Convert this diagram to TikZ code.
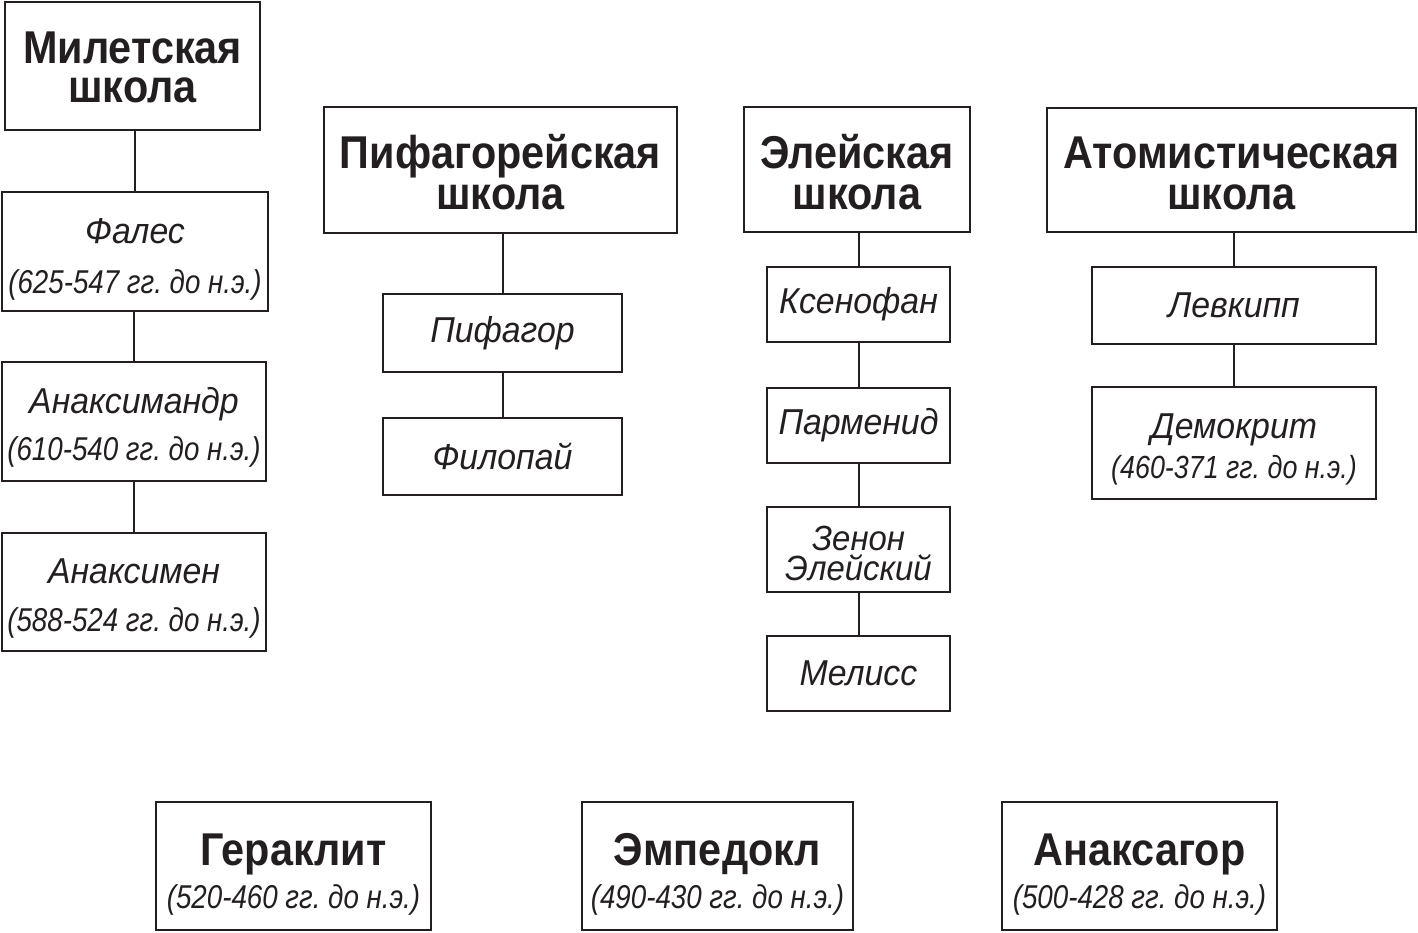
\documentclass[tikz,border=0pt]{standalone}
\usepackage{fontspec}
\setmainfont{Liberation Sans}[FakeStretch=0.84]
\newfontfamily\hdf{Liberation Sans}[FakeStretch=0.9]
\newfontfamily\nmf{Liberation Sans}[FakeStretch=0.94]
\definecolor{ink}{HTML}{231F20}
\newcommand\topst[1]{\rule{0pt}{#1pt}}
\newcommand\botst[1]{\rule[-#1pt]{0pt}{#1pt}}
\begin{document}
\begin{tikzpicture}[x=1pt,y=-1pt,
  box/.style={draw=ink,line width=2.8pt,rectangle,inner sep=0pt,align=center,text=ink,execute at begin node=\frenchspacing},
  hd/.style={box,font=\hdf\bfseries\fontsize{46}{41}\selectfont},
  nm/.style={box,font=\nmf\itshape\fontsize{36}{40}\selectfont},
  dt/.style={box,font=\itshape\fontsize{33}{#1}\selectfont},
  link/.style={draw=ink,line width=2pt}]
\useasboundingbox (0,0) rectangle (1418,932);
% Milesian
\node[hd,minimum width=255pt,minimum height=128pt,font=\hdf\bfseries\fontsize{46}{39}\selectfont] (mil) at (132.5,66) {\topst{45}Милетская\\школа\botst{12}};
\node[dt=50,minimum width=266pt,minimum height=119pt] (fal) at (135,251.5) {\topst{43}{\nmf\fontsize{36}{50}\selectfont Фалес}\\(625-547 гг. до н.э.)\botst{10}};
\node[dt=47,minimum width=264pt,minimum height=119pt] (anxd) at (134,421.5) {\topst{40}{\nmf\fontsize{36}{47}\selectfont Анаксимандр}\\(610-540 гг. до н.э.)\botst{10}};
\node[dt=48,minimum width=264pt,minimum height=118pt] (anxm) at (134,592) {\topst{40}{\nmf\fontsize{36}{48}\selectfont Анаксимен}\\(588-524 гг. до н.э.)\botst{10}};
% Pythagorean
\node[hd,minimum width=353pt,minimum height=126pt] (pyth) at (500.5,170) {\topst{49}Пифагорейская\\школа\botst{12}};
\node[nm,minimum width=239pt,minimum height=78pt] (pif) at (502.5,333) {Пифагор};
\node[nm,minimum width=239pt,minimum height=77pt] (fil) at (502.5,456.5) {Филопай};
% Eleatic
\node[hd,minimum width=226pt,minimum height=125pt] (elea) at (857,169.5) {\topst{50}Элейская\\школа\botst{12}};
\node[nm,minimum width=183pt,minimum height=75pt] (ksen) at (858.5,304.5) {Ксенофан};
\node[nm,minimum width=183pt,minimum height=75pt] (parm) at (858.5,425.5) {Парменид};
\node[nm,minimum width=183pt,minimum height=85pt,font=\nmf\itshape\fontsize{35}{30}\selectfont] (zen) at (858.5,549.5) {\topst{41}Зенон\\Элейский\botst{10}};
\node[nm,minimum width=183pt,minimum height=75pt] (mel) at (858.5,673.5) {Мелисс};
% Atomist
\node[hd,minimum width=369pt,minimum height=124pt] (atom) at (1231.5,170) {\topst{49}Атомистическая\\школа\botst{12}};
\node[nm,minimum width=284pt,minimum height=77pt] (levk) at (1234,305.5) {Левкипп};
\node[dt=40,minimum width=284pt,minimum height=112pt,font=\itshape\fontsize{32}{40}\selectfont] (dem) at (1234,443) {\topst{40}{\nmf\fontsize{36}{40}\selectfont Демокрит}\\(460-371 гг. до н.э.)\botst{10}};
% Bottom
\node[dt=43,minimum width=275pt,minimum height=128pt] (ger) at (293.5,866) {\topst{51}{\hdf\bfseries\upshape\fontsize{46}{43}\selectfont Гераклит}\\(520-460 гг. до н.э.)\botst{10}};
\node[dt=43,minimum width=271pt,minimum height=128pt] (emp) at (717.5,866) {\topst{51}{\hdf\bfseries\upshape\fontsize{46}{43}\selectfont Эмпедокл}\\(490-430 гг. до н.э.)\botst{10}};
\node[dt=43,minimum width=275pt,minimum height=128pt] (anxg) at (1139.5,866) {\topst{51}{\hdf\bfseries\upshape\fontsize{46}{43}\selectfont Анаксагор}\\(500-428 гг. до н.э.)\botst{10}};
% connectors
\foreach \a/\b in {mil/fal,fal/anxd,anxd/anxm,pyth/pif,pif/fil,elea/ksen,ksen/parm,parm/zen,zen/mel,atom/levk,levk/dem}
  \draw[link] (\b.north |- \a.south) -- (\b.north);
\end{tikzpicture}
\end{document}
